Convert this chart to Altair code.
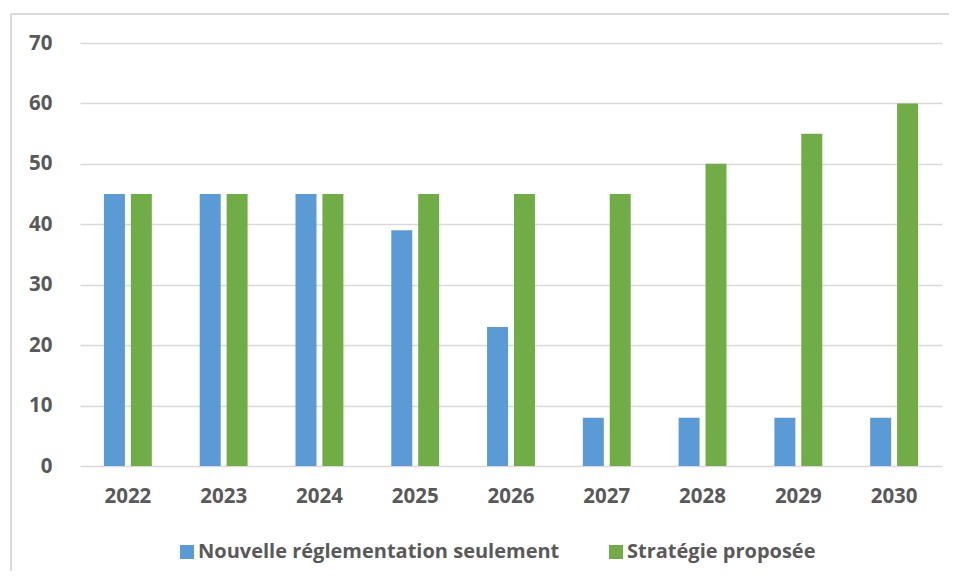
import altair as alt
import pandas as pd

years = ["2022", "2023", "2024", "2025", "2026", "2027", "2028", "2029", "2030"]
nouvelle = [45, 45, 45, 39, 23, 8, 8, 8, 8]
strategie = [45, 45, 45, 45, 45, 45, 50, 55, 60]
series_names = ["Nouvelle réglementation seulement", "Stratégie proposée"]
series_colors = ["#5B9BD5", "#70AD47"]
y_ticks = [0, 10, 20, 30, 40, 50, 60, 70]

rows = []
for i, y in enumerate(years):
    rows.append({"year": y, "series": series_names[0], "value": nouvelle[i]})
    rows.append({"year": y, "series": series_names[1], "value": strategie[i]})
df = pd.DataFrame(rows)

FONT = "Open Sans"
TXT = "#595959"
GRID = "#D9D9D9"

bars = alt.Chart(df).mark_bar().encode(
    x=alt.X("year:N", sort=years,
            scale=alt.Scale(paddingInner=0.5, paddingOuter=0.25),
            axis=alt.Axis(title=None, labelAngle=0, ticks=False, domain=False,
                          labelPadding=20, labelFontSize=20.5, labelFontWeight="bold",
                          labelColor=TXT, labelFont=FONT)),
    xOffset=alt.XOffset("series:N", sort=series_names,
                        scale=alt.Scale(paddingInner=0.22, paddingOuter=0)),
    y=alt.Y("value:Q",
            scale=alt.Scale(domain=[0, 70], nice=False),
            axis=alt.Axis(title=None, values=y_ticks, ticks=False, domain=False,
                          grid=True, gridColor=GRID, gridWidth=1.5,
                          labelPadding=28, labelFontSize=20.5, labelFontWeight="bold",
                          labelColor=TXT, labelFont=FONT)),
    color=alt.Color("series:N", sort=series_names,
                    scale=alt.Scale(domain=series_names, range=series_colors),
                    legend=alt.Legend(title=None, orient="none", direction="horizontal",
                                      legendX=97, legendY=499,
                                      symbolType="square", symbolSize=196,
                                      symbolStrokeWidth=0, symbolOpacity=1,
                                      labelFontSize=20, labelFontWeight="bold",
                                      labelColor=TXT, labelFont=FONT,
                                      labelLimit=600, columnPadding=46,
                                      labelOffset=1, padding=0)),
)

one = pd.DataFrame({"k": [0]})
frame_top = alt.Chart(one).mark_rule(color=GRID, strokeWidth=2).encode(
    x=alt.value(-69), x2=alt.value(900), y=alt.value(-29)
)
frame_left = alt.Chart(one).mark_rule(color=GRID, strokeWidth=2).encode(
    x=alt.value(-69), y=alt.value(-29), y2=alt.value(600)
)

chart = alt.layer(frame_top, frame_left, bars).properties(
    width=862, height=423,
    autosize=alt.AutoSizeParams(type="none"),
    padding={"left": 72, "top": 35, "right": 7, "bottom": 105},
).configure_view(stroke=None)

chart.save("out.html", embed_options={"renderer": "svg", "actions": False})
